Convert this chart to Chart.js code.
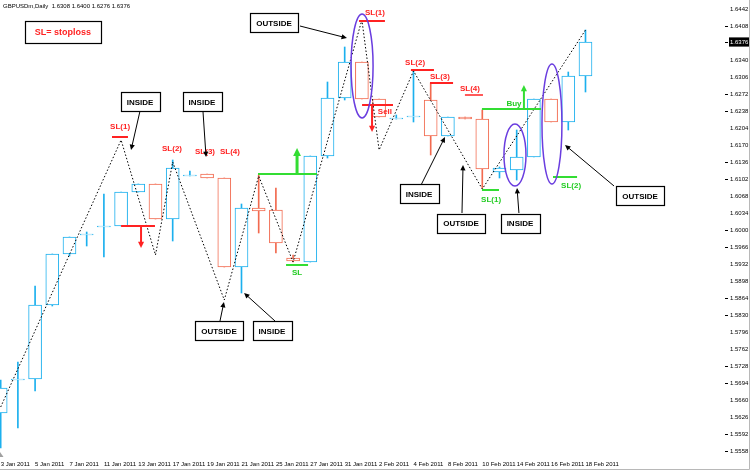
<!DOCTYPE html>
<html><head><meta charset="utf-8">
<script src="https://cdn.jsdelivr.net/npm/chart.js@4.4.1/dist/chart.umd.min.js"></script>
<style>html,body{margin:0;padding:0;background:#fff}#wrap{width:750px;height:470px;position:relative}</style>
</head><body><div id="wrap"><canvas id="c" width="750" height="470"></canvas></div>
<script>
// ---------- data ----------
const symbol = 'GBPUSDm,Daily';
const dates = ['3 Jan 2011','4 Jan 2011','5 Jan 2011','6 Jan 2011','7 Jan 2011','10 Jan 2011','11 Jan 2011','12 Jan 2011','13 Jan 2011','14 Jan 2011',
 '17 Jan 2011','18 Jan 2011','19 Jan 2011','20 Jan 2011','21 Jan 2011','24 Jan 2011','25 Jan 2011','26 Jan 2011','27 Jan 2011','28 Jan 2011',
 '31 Jan 2011','1 Feb 2011','2 Feb 2011','3 Feb 2011','4 Feb 2011','7 Feb 2011','8 Feb 2011','9 Feb 2011','10 Feb 2011','11 Feb 2011',
 '14 Feb 2011','15 Feb 2011','16 Feb 2011','17 Feb 2011','18 Feb 2011'];
const open  = [1.5634,1.5700,1.5702,1.5850,1.5952,1.5990,1.6006,1.6008,1.6076,1.6092,
               1.6022,1.6108,1.6112,1.6104,1.5926,1.6044,1.6040,1.5944,1.5936,1.6148,
               1.6264,1.6336,1.6262,1.6222,1.6226,1.6260,1.6188,1.6226,1.6222,1.6116,
               1.6120,1.6146,1.6262,1.6216,1.6308];
const high  = [1.5700,1.5736,1.5888,1.5952,1.5986,1.5996,1.6072,1.6076,1.6092,1.6092,
               1.6140,1.6118,1.6112,1.6104,1.6052,1.6110,1.6084,1.5950,1.6148,1.6296,
               1.6366,1.6336,1.6262,1.6230,1.6318,1.6294,1.6226,1.6226,1.6240,1.6126,
               1.6200,1.6262,1.6262,1.6316,1.6400];
const low   = [1.5564,1.5604,1.5678,1.5848,1.5948,1.5968,1.5946,1.6008,1.6076,1.6022,
               1.5978,1.6108,1.6104,1.5926,1.5874,1.5994,1.5954,1.5936,1.5936,1.6144,
               1.6260,1.6262,1.6226,1.6222,1.6216,1.6150,1.6188,1.6222,1.6084,1.6104,
               1.6100,1.6146,1.6216,1.6200,1.6276];
const close = [1.5684,1.5702,1.5850,1.5952,1.5986,1.5992,1.6008,1.6076,1.6092,1.6022,
               1.6124,1.6110,1.6104,1.5926,1.6044,1.6038,1.5974,1.5938,1.6148,1.6264,
               1.6336,1.6262,1.6226,1.6224,1.6228,1.6188,1.6226,1.6222,1.6122,1.6124,
               1.6146,1.6262,1.6216,1.6308,1.6376];
const zigzagBar   = [0,7,9,10,13,15,17,21,22,24,28,34];
const zigzagPrice = [1.5646,1.6180,1.5950,1.6136,1.5860,1.6108,1.5936,1.6420,1.6160,1.6318,1.6082,1.6400];
const yTickValues = [1.6442,1.6408,1.6374,1.6340,1.6306,1.6272,1.6238,1.6204,1.6170,1.6136,1.6102,1.6068,1.6034,1.6000,
                     1.5966,1.5932,1.5898,1.5864,1.5830,1.5796,1.5762,1.5728,1.5694,1.5660,1.5626,1.5592,1.5558];
const dateTickBars = [0,2,4,6,8,10,12,14,16,18,20,22,24,26,28,30,32,34];

// annotation texts & anchors (bar index, price)
const RED = '#ff2222', GREEN = '#33dd33', GTXT = '#22cc22', PURPLE = '#6a3ddf';
const notes = [
 {type:'box', x:3.62, y:1.6396, text:'SL= stoploss', color:RED, font:'bold 9px "Liberation Sans", Arial', pad:10, h:22},
 // left part
 {type:'text', x:6.94, y:1.6206, text:'SL(1)', color:RED},
 {type:'hline', x1:6.47, x2:7.40, y:1.6186, color:RED, w:2},
 {type:'text', x:9.96, y:1.6162, text:'SL(2)', color:RED},
 {type:'text', x:11.88, y:1.6156, text:'SL(3)', color:RED},
 {type:'text', x:13.33, y:1.6156, text:'SL(4)', color:RED},
 {type:'hline', x1:7.0, x2:8.97, y:1.6008, color:RED, w:2},
 {type:'arrow', x1:8.16, y1:1.6006, x2:8.16, y2:1.5964, color:RED, w:2, head:5},
 {type:'hline', x1:14.96, x2:18.39, y:1.6112, color:GREEN, w:2},
 {type:'arrow', x1:17.23, y1:1.6112, x2:17.23, y2:1.6164, color:GREEN, w:3, head:6},
 {type:'hline', x1:16.59, x2:17.87, y:1.5930, color:GREEN, w:2},
 {type:'text', x:17.23, y:1.5914, text:'SL', color:GTXT},
 // middle part
 {type:'text', x:21.76, y:1.6434, text:'SL(1)', color:RED},
 {type:'hline', x1:20.83, x2:22.34, y:1.6418, color:RED, w:2},
 {type:'hline', x1:21.01, x2:22.81, y:1.6250, color:RED, w:2},
 {type:'text', x:22.34, y:1.6236, text:'Sell', color:RED},
 {type:'arrow', x1:21.59, y1:1.6250, x2:21.59, y2:1.6196, color:RED, w:2, head:5},
 {type:'text', x:24.09, y:1.6334, text:'SL(2)', color:RED},
 {type:'hline', x1:23.85, x2:25.19, y:1.6320, color:RED, w:2},
 {type:'text', x:25.54, y:1.6306, text:'SL(3)', color:RED},
 {type:'hline', x1:24.96, x2:26.30, y:1.6294, color:RED, w:2},
 {type:'text', x:27.28, y:1.6282, text:'SL(4)', color:RED},
 {type:'hline', x1:26.99, x2:28.04, y:1.6270, color:RED, w:1.5},
 // right part
 {type:'hline', x1:27.98, x2:31.41, y:1.6242, color:GREEN, w:2},
 {type:'text', x:29.84, y:1.6252, text:'Buy', color:GTXT},
 {type:'arrow', x1:30.42, y1:1.6244, x2:30.42, y2:1.6290, color:GREEN, w:2, head:5},
 {type:'hline', x1:27.98, x2:28.97, y:1.6080, color:GREEN, w:2},
 {type:'text', x:28.51, y:1.6060, text:'SL(1)', color:GTXT},
 {type:'hline', x1:32.11, x2:33.51, y:1.6106, color:GREEN, w:2},
 {type:'text', x:33.16, y:1.6088, text:'SL(2)', color:GTXT},
 {type:'ellipse', x:21.01, y:1.6328, rx:0.64, ry:0.0104, color:PURPLE},
 {type:'ellipse', x:29.90, y:1.6150, rx:0.64, ry:0.0062, color:PURPLE},
 {type:'ellipse', x:32.05, y:1.6212, rx:0.58, ry:0.0120, color:PURPLE},
 // callout boxes with arrows
 {type:'box', x:8.10, y:1.6256, text:'INSIDE'},
 {type:'arrow', x1:8.10, y1:1.6238, x2:7.58, y2:1.6160, color:'#000', w:1, head:5},
 {type:'box', x:11.70, y:1.6256, text:'INSIDE'},
 {type:'arrow', x1:11.76, y1:1.6238, x2:11.94, y2:1.6146, color:'#000', w:1, head:5},
 {type:'box', x:15.89, y:1.6414, text:'OUTSIDE'},
 {type:'arrow', x1:17.40, y1:1.6408, x2:20.13, y2:1.6384, color:'#000', w:1, head:5},
 {type:'box', x:12.69, y:1.5798, text:'OUTSIDE'},
 {type:'arrow', x1:12.75, y1:1.5818, x2:12.98, y2:1.5856, color:'#000', w:1, head:5},
 {type:'box', x:15.77, y:1.5798, text:'INSIDE'},
 {type:'arrow', x1:15.95, y1:1.5818, x2:14.15, y2:1.5874, color:'#000', w:1, head:5},
 {type:'box', x:24.32, y:1.6072, text:'INSIDE'},
 {type:'arrow', x1:24.44, y1:1.6090, x2:25.83, y2:1.6186, color:'#000', w:1, head:5},
 {type:'box', x:26.76, y:1.6014, text:'OUTSIDE'},
 {type:'arrow', x1:26.82, y1:1.6034, x2:26.88, y2:1.6130, color:'#000', w:1, head:5},
 {type:'box', x:30.19, y:1.6014, text:'INSIDE'},
 {type:'arrow', x1:30.13, y1:1.6034, x2:30.02, y2:1.6084, color:'#000', w:1, head:5},
 {type:'box', x:37.17, y:1.6068, text:'OUTSIDE'},
 {type:'arrow', x1:35.66, y1:1.6088, x2:32.81, y2:1.6170, color:'#000', w:1, head:5}
];

// ---------- chart ----------
const UP = '#1cb0ee', DN = '#f26a4f';
const barColors = close.map((c, i) => c >= open[i] ? UP : DN);
const lastClose = close[close.length - 1];
const FONT = '"Liberation Sans", Arial, sans-serif';

const annPlugin = {
  id: 'annotations',
  afterDraw(chart) {
    const {ctx, scales: {x, y}, chartArea} = chart;
    ctx.save();
    // title
    ctx.fillStyle = '#000';
    ctx.font = '6px ' + FONT;
    ctx.textBaseline = 'top';
    ctx.textAlign = 'left';
    const n = close.length - 1;
    ctx.fillText(symbol + '  ' + [open[n], high[n], low[n], close[n]].map(v => v.toFixed(4)).join(' '), 3, 3);

    // small price-axis tick dashes
    ctx.strokeStyle = '#000'; ctx.lineWidth = 1;
    y.ticks.forEach((t, k) => {
      if (k % 4 === 1 || k % 4 === 2) {
        const py = Math.round(y.getPixelForValue(t.value)) + 0.5;
        ctx.beginPath(); ctx.moveTo(chartArea.right + 5, py); ctx.lineTo(chartArea.right + 8, py); ctx.stroke();
      }
    });

    const arrowHead = (x1, y1, x2, y2, size, color) => {
      const a = Math.atan2(y2 - y1, x2 - x1);
      ctx.beginPath();
      ctx.moveTo(x2, y2);
      ctx.lineTo(x2 - size * Math.cos(a - 0.45), y2 - size * Math.sin(a - 0.45));
      ctx.lineTo(x2 - size * Math.cos(a + 0.45), y2 - size * Math.sin(a + 0.45));
      ctx.closePath();
      ctx.fillStyle = color; ctx.fill();
    };
    for (const a of notes) {
      if (a.type === 'hline') {
        ctx.strokeStyle = a.color; ctx.lineWidth = a.w;
        ctx.beginPath();
        ctx.moveTo(x.getPixelForValue(a.x1), y.getPixelForValue(a.y));
        ctx.lineTo(x.getPixelForValue(a.x2), y.getPixelForValue(a.y));
        ctx.stroke();
      } else if (a.type === 'text') {
        ctx.fillStyle = a.color;
        ctx.font = 'bold 8px ' + FONT;
        ctx.textAlign = 'center'; ctx.textBaseline = 'middle';
        ctx.fillText(a.text, x.getPixelForValue(a.x), y.getPixelForValue(a.y));
      } else if (a.type === 'arrow') {
        const x1 = x.getPixelForValue(a.x1), y1 = y.getPixelForValue(a.y1);
        const x2 = x.getPixelForValue(a.x2), y2 = y.getPixelForValue(a.y2);
        const ang = Math.atan2(y2 - y1, x2 - x1);
        ctx.strokeStyle = a.color; ctx.lineWidth = a.w;
        ctx.beginPath(); ctx.moveTo(x1, y1);
        ctx.lineTo(x2 - a.head * 0.7 * Math.cos(ang), y2 - a.head * 0.7 * Math.sin(ang));
        ctx.stroke();
        arrowHead(x1, y1, x2, y2, a.head + a.w, a.color);
      } else if (a.type === 'ellipse') {
        const cx = x.getPixelForValue(a.x), cy = y.getPixelForValue(a.y);
        const rx = Math.abs(x.getPixelForValue(a.x + a.rx) - cx);
        const ry = Math.abs(y.getPixelForValue(a.y + a.ry) - cy);
        ctx.strokeStyle = a.color; ctx.lineWidth = 1.5;
        ctx.beginPath(); ctx.ellipse(cx, cy, rx, ry, 0, 0, Math.PI * 2); ctx.stroke();
      } else if (a.type === 'box') {
        const cx = x.getPixelForValue(a.x), cy = y.getPixelForValue(a.y);
        ctx.font = a.font || ('bold 8px ' + FONT);
        const w = ctx.measureText(a.text).width + 2 * (a.pad || 6);
        const h = a.h || 19;
        const bx = Math.round(cx - w / 2) + 0.5, by = Math.round(cy - h / 2) + 0.5;
        ctx.fillStyle = '#fff'; ctx.fillRect(bx, by, Math.round(w), h);
        ctx.strokeStyle = '#000'; ctx.lineWidth = 1.2; ctx.strokeRect(bx, by, Math.round(w), h);
        ctx.fillStyle = a.color || '#000';
        ctx.textAlign = 'center'; ctx.textBaseline = 'middle';
        ctx.fillText(a.text, cx, cy + 0.5);
      }
    }
    // small chart-shift marker and window frame
    ctx.fillStyle = '#a0a0a0';
    ctx.beginPath(); ctx.moveTo(0, 452); ctx.lineTo(3.5, 457); ctx.lineTo(0, 457); ctx.closePath(); ctx.fill();
    ctx.strokeStyle = '#b8b8b8'; ctx.lineWidth = 1;
    ctx.beginPath(); ctx.moveTo(749.5, 0); ctx.lineTo(749.5, 469.5); ctx.lineTo(0, 469.5); ctx.stroke();
    ctx.restore();
  }
};

new Chart(document.getElementById('c'), {
  type: 'bar',
  data: {
    datasets: [
      {
        type: 'line', label: 'ZigZag',
        data: zigzagBar.map((b, k) => ({x: b, y: zigzagPrice[k]})),
        borderColor: '#000', borderWidth: 1, borderDash: [1.5, 2],
        pointRadius: 0, tension: 0, fill: false, order: 0
      },
      {
        label: 'body',
        data: dates.map((d, i) => ({x: i, y: [open[i], close[i]]})),
        backgroundColor: '#ffffff', borderColor: barColors, borderWidth: 1,
        borderSkipped: false, barThickness: 13, minBarLength: 1, grouped: false, order: 1
      },
      {
        label: 'wick',
        data: dates.map((d, i) => ({x: i, y: [low[i], high[i]]})),
        backgroundColor: barColors, borderWidth: 0,
        barThickness: 1, grouped: false, order: 2
      }
    ]
  },
  options: {
    responsive: false, animation: false,
    layout: {padding: 0},
    plugins: {legend: {display: false}, tooltip: {enabled: false}, title: {display: false}},
    scales: {
      x: {
        type: 'linear', min: -0.04, max: 41.82, offset: false,
        grid: {display: false, drawTicks: false}, border: {display: false},
        afterBuildTicks: s => { s.ticks = dateTickBars.map(v => ({value: v})); },
        afterFit: s => { s.height = 12; s.paddingLeft = 0; s.paddingRight = 0; },
        ticks: {autoSkip: false, maxRotation: 0, minRotation: 0, align: 'start', padding: 3,
                font: {family: FONT, size: 6}, color: '#000',
                callback: v => dates[v]}
      },
      y: {
        type: 'linear', position: 'right', min: 1.5544, max: 1.6460,
        grid: {display: false, drawTicks: false}, border: {display: false},
        afterBuildTicks: s => {
          const t = yTickValues.filter(v => Math.abs(v - lastClose) > 0.0016).map(v => ({value: v}));
          t.push({value: lastClose});
          s.ticks = t.sort((a, b) => b.value - a.value);
        },
        afterFit: s => { s.width = 30; s.paddingTop = 0; s.paddingBottom = 0; },
        ticks: {
          padding: 10, font: {family: FONT, size: 6},
          color: c => (c.tick && c.tick.value === lastClose) ? '#fff' : '#000',
          showLabelBackdrop: c => !!(c.tick && c.tick.value === lastClose),
          backdropColor: '#000', backdropPadding: 1,
          callback: v => v.toFixed(4)
        }
      }
    }
  },
  plugins: [annPlugin]
});
</script>
</body></html>
